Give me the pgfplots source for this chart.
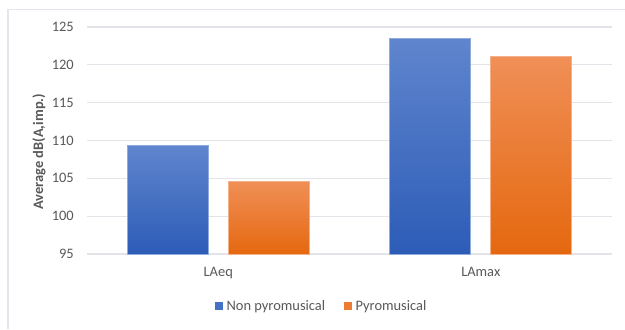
\documentclass[border=0pt]{standalone}
\usepackage{fontspec}
\setmainfont{Carlito}
\usepackage{pgfplots}
\pgfplotsset{compat=1.18}
\definecolor{txt}{HTML}{595959}
\definecolor{gridc}{HTML}{E3E3EA}
\definecolor{brd}{HTML}{E4E5EC}
\definecolor{bluetop}{HTML}{5F85CD}
\definecolor{bluebot}{HTML}{2D5CB7}
\definecolor{bluemid}{HTML}{4472C4}
\definecolor{ortop}{HTML}{F08F57}
\definecolor{orbot}{HTML}{E5680F}
\definecolor{ormid}{HTML}{ED7D31}
\begin{document}
\begin{tikzpicture}[x=1bp,y=1bp]
\useasboundingbox (0,0) rectangle (625,329);
\fill[white] (0,0) rectangle (625,329);
\draw[brd, line width=1.5bp] (8,0) -- (8,319.5) -- (625,319.5);
\begin{axis}[
  at={(87bp,75bp)}, anchor=south west,
  scale only axis, width=525bp, height=227bp,
  xmin=-0.5, xmax=1.5,
  ymin=95, ymax=125,
  y coord trafo/.code={\pgfmathparse{#1-95}},
  y coord inv trafo/.code={\pgfmathparse{#1+95}},
  ytick={95,100,105,110,115,120,125},
  yticklabels={95,100,105,110,115,120,125},
  xtick={0,1},
  xticklabels={LAeq,LAmax},
  axis line style={draw=none},
  tick style={draw=none},
  ymajorgrids,
  grid style={gridc, line width=1.2bp},
  ticklabel style={font=\fontsize{14.5}{17}\selectfont, text=txt},
  yticklabel style={anchor=east, inner sep=0pt, xshift=-13bp},
  xticklabel style={anchor=north, inner sep=0pt, yshift=-13bp},
  ylabel={Average dB(A,imp.)},
  ylabel style={font=\fontsize{14.5}{17}\selectfont\bfseries, text=txt,
    at={(axis description cs:-0.0914,0.45)}, anchor=center, rotate=0},
  legend style={at={(axis description cs:0.2438,-0.229)}, anchor=west,
    draw=none, fill=none, inner sep=0pt,
    font=\fontsize{14.5}{17}\selectfont, text=txt,
    nodes={inner sep=0pt},
    legend columns=2,
    /tikz/every even column/.append style={column sep=19bp}},
  legend cell align=left,
  legend image code/.code={\fill[#1] (0bp,-3.5bp) rectangle (7bp,3.5bp); \path (11bp,0bp);},
  clip=false,
]
\addlegendimage{bluemid}
\addlegendentry{Non pyromusical}
\addlegendimage{ormid}
\addlegendentry{Pyromusical}
\addplot[forget plot, ybar, bar width=81bp, bar shift=-50.5bp, draw=bluetop!70!white, line width=0.6bp,
  top color=bluetop, bottom color=bluebot] coordinates {(0,109.3)};
\addplot[forget plot, ybar, bar width=81bp, bar shift=-50.5bp, draw=bluetop!70!white, line width=0.6bp,
  top color=bluetop, bottom color=bluebot] coordinates {(1,123.5)};
\addplot[forget plot, ybar, bar width=81bp, bar shift=50.5bp, draw=ortop!70!white, line width=0.6bp,
  top color=ortop, bottom color=orbot] coordinates {(0,104.6)};
\addplot[forget plot, ybar, bar width=81bp, bar shift=50.5bp, draw=ortop!70!white, line width=0.6bp,
  top color=ortop, bottom color=orbot] coordinates {(1,121.1)};
\end{axis}
\end{tikzpicture}
\end{document}
